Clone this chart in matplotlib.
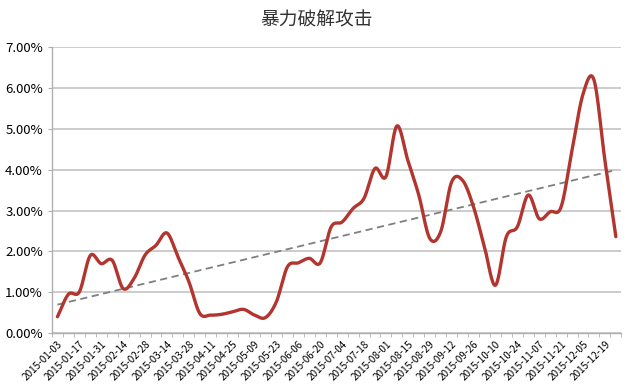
import numpy as np
import pandas as pd
import matplotlib
matplotlib.use("Agg")
import matplotlib.pyplot as plt
from matplotlib.ticker import FixedLocator, FuncFormatter

plt.rcParams['font.family'] = ['Noto Sans CJK SC', 'DejaVu Sans']

title = "暴力破解攻击"
dates = pd.date_range("2015-01-03", periods=52, freq="7D")
# weekly rate in %
values = [0.40, 0.95, 1.01, 1.90, 1.70, 1.78, 1.09, 1.34, 1.91, 2.15,
          2.45, 1.87, 1.26, 0.48, 0.44, 0.46, 0.52, 0.58, 0.44, 0.38,
          0.77, 1.62, 1.72, 1.83, 1.72, 2.60, 2.72, 3.05, 3.30, 4.03,
          3.83, 5.07, 4.23, 3.38, 2.32, 2.48, 3.70, 3.74, 3.09, 2.11,
          1.17, 2.36, 2.60, 3.38, 2.80, 2.97, 3.09, 4.48, 5.85, 6.20,
          4.23, 2.36]
tick_labels = [d.strftime("%Y-%m-%d") for d in dates[::2]]

y = np.array(values) / 100
x = np.arange(len(y))


def catmull_rom(xs, ys, n=20):
    # smooth path through the points, like a spreadsheet "smoothed line"
    px = np.concatenate([[2 * xs[0] - xs[1]], xs, [2 * xs[-1] - xs[-2]]])
    py = np.concatenate([[2 * ys[0] - ys[1]], ys, [2 * ys[-1] - ys[-2]]])
    t = np.linspace(0, 1, n, endpoint=False)
    ox, oy = [], []
    for i in range(1, len(px) - 2):
        for p, out in ((px, ox), (py, oy)):
            p0, p1, p2, p3 = p[i - 1], p[i], p[i + 1], p[i + 2]
            out.extend(0.5 * (2 * p1 + (-p0 + p2) * t
                              + (2 * p0 - 5 * p1 + 4 * p2 - p3) * t ** 2
                              + (-p0 + 3 * p1 - 3 * p2 + p3) * t ** 3))
    ox.append(xs[-1])
    oy.append(ys[-1])
    return np.array(ox), np.array(oy)


fig = plt.figure(figsize=(6.34, 3.90), dpi=100)
ax = fig.add_axes([0.082, 0.146, 0.898, 0.733])

sx, sy = catmull_rom(x.astype(float), y)
ax.plot(sx, sy, color="#b2352f", lw=2.4, solid_capstyle="round", zorder=3)

k, b = np.polyfit(x, y, 1)
ax.plot(x, k * x + b, color="#7f7f7f", lw=1.3, ls=(0, (4, 2.5)), zorder=2)

ax.set_xlim(-0.5, len(y) - 0.5)
ax.set_ylim(0, 0.07)
ax.yaxis.set_major_locator(FixedLocator(np.arange(0, 0.0701, 0.01)))
ax.yaxis.set_major_formatter(FuncFormatter(lambda v, p: "%.2f%%" % (v * 100)))
ax.grid(axis="y", color="#c8c8c8", lw=1.3)
ax.set_axisbelow(True)

ax.set_xticks(x[::2])
ax.set_xticklabels(tick_labels, rotation=45, ha="right", va="top",
                   rotation_mode="anchor", fontsize=7.2)
ax.xaxis.set_minor_locator(FixedLocator(np.arange(-0.5, len(y), 1)))
ax.tick_params(axis="x", which="major", length=0, pad=4)
ax.tick_params(axis="x", which="minor", length=3, color="#b0b0b0")
ax.tick_params(axis="y", length=3, color="#b0b0b0", labelsize=9.5)

for s in ["top", "right"]:
    ax.spines[s].set_visible(False)
for s in ["left", "bottom"]:
    ax.spines[s].set_color("#b0b0b0")
    ax.spines[s].set_linewidth(1.0)

fig.suptitle(title, y=0.975, fontsize=13.5, color="#333333")
fig.savefig("out.png", dpi=100)
